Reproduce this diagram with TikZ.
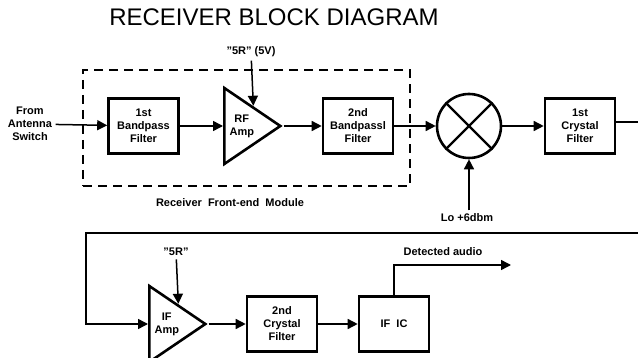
\documentclass[tikz,border=0pt]{standalone}
\usepackage{fontspec}
\setmainfont{Liberation Sans}
\usetikzlibrary{shapes.geometric,arrows.meta}
\newcommand{\block}[3]{%
 \node[block] ({#1}) at ({#2}) {#3};%
}
\newcommand{\amplifier}[3]{%
 \node[amp] ({#1}) at ({#2}) {#3};%
}
\begin{document}
\begin{tikzpicture}[x=1pt,y=-1pt,
  every node/.style={font=\fontsize{11}{13}\selectfont\bfseries,align=center},
  block/.style={draw,line width=2.6pt,minimum width=70pt,minimum height=55pt,inner sep=2pt},
  amp/.style={draw,line width=2.6pt,isosceles triangle,isosceles triangle stretches,
    shape border rotate=0,minimum height=56pt,minimum width=76pt,inner sep=0pt,anchor=lower side},
  mixer/.style={draw,circle,line width=2.6pt,minimum size=64pt,inner sep=0pt},
  modbox/.style={draw,line width=2pt,dash pattern=on 9pt off 6pt,minimum width=327pt,minimum height=116pt},
  sig/.style={line width=1.5pt,-{Triangle[length=10pt,width=10pt]}},
  wire/.style={line width=1.5pt}]
  \useasboundingbox (0,0) rectangle (638,358);
  \node[font=\fontsize{24}{28}\selectfont] (title) at (274,17) {RECEIVER BLOCK DIAGRAM};

  \node[modbox] (fem) at (246.5,128) {};
  \node (femlbl) at (230,203) {Receiver~ Front-end~ Module};
  \node (ant) at (30,124) {From\\Antenna\\Switch};
  \block{bp1}{143.5,126}{1st\\Bandpass\\Filter}
  \amplifier{rfamp}{223,126}{RF\\Amp}
  \block{bp2}{358,126}{2nd\\Bandpassl\\Filter}
  \node[mixer] (mix) at (469,126) {};
  \block{xf1}{580,126}{1st\\Crystal\\Filter}
  \node (v5r) at (251,52) {"5R" (5V)};
  \node (lo) at (467,218) {Lo +6dbm};
  \coordinate (out) at (638,122);
  \coordinate (back) at (638,233);
  \coordinate (fold) at (86,233);

  \amplifier{ifamp}{148,324}{IF\\Amp}
  \node (v5r2) at (176,252) {"5R"};
  \block{xf2}{282,324}{2nd\\Crystal\\Filter}
  \block{ific}{394,324}{IF~ IC}
  \coordinate (aud) at (511,265);
  \node (audlbl) at (443,252) {Detected audio};

  \draw[sig] (ant) -- (bp1);
  \draw[sig] (bp1) -- (rfamp.lower side);
  \draw[sig] (v5r) -- (rfamp.left side);
  \draw[sig] (rfamp.apex) -- (bp2);
  \draw[sig] (bp2) -- (mix);
  \draw[sig] (mix |- lo.north) -- (mix);
  \draw[line width=2.2pt] (mix.north west) -- (mix.south east) (mix.north east) -- (mix.south west);
  \draw[sig] (mix) -- (xf1);
  \draw[wire] (xf1.east |- out) -- (out);
  \draw[sig] (back) -- (fold) |- (ifamp.lower side);
  \draw[sig] (v5r2) -- (ifamp.left side);
  \draw[sig] (ifamp.apex) -- (xf2);
  \draw[sig] (xf2) -- (ific);
  \draw[sig] (ific) |- (aud);
\end{tikzpicture}
\end{document}
